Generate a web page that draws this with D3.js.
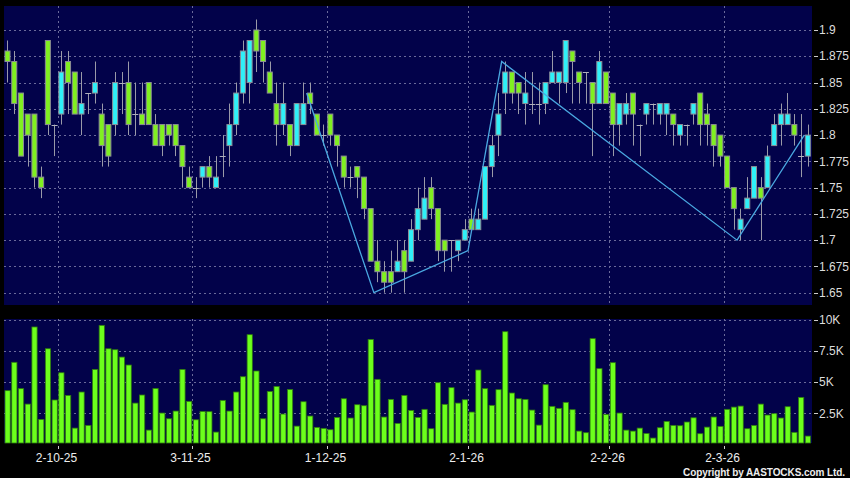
<!DOCTYPE html>
<html lang="en">
<head>
<meta charset="UTF-8">
<title>AASTOCKS candlestick</title>
<script src="https://d3js.org/d3.v7.min.js"></script>
<style>
  body { margin: 0; background: #000; }
  svg { display: block; font-family: "Liberation Sans", Arial, sans-serif; }
</style>
</head>
<body>
<div id="chart"></div>
<script>
// daily OHLC
const opens  = [1.88,1.87,1.84,1.82,1.82,1.76,1.89,1.81,1.82,1.87,1.86,1.82,1.84,1.84,1.82,1.81,1.81,1.85,1.85,1.82,
                1.82,1.85,1.81,1.81,1.81,1.81,1.79,1.76,1.75,1.76,1.77,1.75,1.78,1.79,1.81,1.84,1.85,1.90,1.89,1.86,
                1.83,1.81,1.81,1.79,1.81,1.84,1.82,1.80,1.82,1.80,1.78,1.76,1.77,1.76,1.73,1.68,1.67,1.67,1.67,1.69,
                1.68,1.71,1.72,1.75,1.73,1.70,1.70,1.69,1.70,1.72,1.71,1.72,1.77,1.80,1.84,1.86,1.85,1.83,1.83,1.83,
                1.83,1.85,1.85,1.85,1.88,1.86,1.86,1.85,1.83,1.86,1.84,1.81,1.82,1.84,1.81,1.82,1.83,1.82,1.82,1.82,
                1.80,1.81,1.82,1.84,1.82,1.81,1.80,1.78,1.75,1.71,1.73,1.74,1.75,1.75,1.79,1.81,1.81,1.81,1.78,1.78];
const highs  = [1.89,1.88,1.84,1.82,1.82,1.77,1.89,1.81,1.88,1.88,1.86,1.86,1.84,1.87,1.83,1.81,1.86,1.86,1.87,1.85,
                1.85,1.85,1.82,1.81,1.81,1.81,1.79,1.77,1.76,1.77,1.78,1.78,1.80,1.83,1.85,1.89,1.89,1.91,1.89,1.87,
                1.85,1.85,1.81,1.83,1.85,1.85,1.82,1.81,1.82,1.80,1.78,1.77,1.77,1.76,1.73,1.70,1.68,1.69,1.70,1.70,
                1.72,1.75,1.76,1.76,1.73,1.70,1.70,1.70,1.72,1.73,1.73,1.77,1.80,1.84,1.87,1.86,1.85,1.86,1.86,1.85,
                1.85,1.88,1.86,1.89,1.88,1.86,1.86,1.85,1.88,1.86,1.84,1.83,1.84,1.84,1.81,1.83,1.83,1.83,1.83,1.82,
                1.81,1.81,1.83,1.84,1.83,1.81,1.80,1.78,1.75,1.73,1.76,1.77,1.76,1.79,1.82,1.83,1.84,1.82,1.82,1.81];
const lows   = [1.85,1.82,1.78,1.77,1.75,1.74,1.80,1.78,1.81,1.82,1.82,1.80,1.82,1.83,1.77,1.77,1.80,1.82,1.80,1.80,
                1.81,1.81,1.79,1.78,1.79,1.78,1.75,1.75,1.74,1.75,1.75,1.75,1.76,1.77,1.80,1.83,1.83,1.86,1.85,1.84,
                1.79,1.80,1.78,1.79,1.81,1.82,1.80,1.79,1.79,1.77,1.75,1.75,1.74,1.72,1.68,1.66,1.65,1.65,1.67,1.65,
                1.68,1.70,1.72,1.72,1.68,1.67,1.67,1.68,1.70,1.71,1.71,1.72,1.76,1.78,1.82,1.83,1.82,1.81,1.82,1.81,
                1.82,1.85,1.83,1.84,1.83,1.83,1.83,1.78,1.83,1.83,1.78,1.79,1.81,1.79,1.78,1.81,1.81,1.81,1.80,1.79,
                1.79,1.79,1.81,1.79,1.79,1.77,1.77,1.75,1.71,1.70,1.73,1.74,1.70,1.75,1.79,1.79,1.81,1.79,1.76,1.77];
const closes = [1.87,1.83,1.78,1.80,1.76,1.75,1.81,1.81,1.86,1.85,1.82,1.83,1.84,1.85,1.79,1.78,1.85,1.85,1.81,1.82,
                1.81,1.81,1.79,1.79,1.80,1.79,1.77,1.75,1.75,1.77,1.76,1.76,1.78,1.81,1.84,1.88,1.89,1.88,1.87,1.84,
                1.81,1.83,1.79,1.83,1.83,1.83,1.80,1.80,1.80,1.79,1.76,1.76,1.76,1.73,1.68,1.67,1.66,1.66,1.68,1.67,
                1.71,1.73,1.74,1.73,1.69,1.69,1.70,1.70,1.71,1.71,1.72,1.77,1.79,1.82,1.86,1.84,1.84,1.84,1.83,1.83,
                1.85,1.86,1.86,1.89,1.87,1.85,1.86,1.83,1.87,1.83,1.81,1.83,1.83,1.82,1.81,1.83,1.83,1.83,1.83,1.81,
                1.81,1.81,1.83,1.81,1.81,1.79,1.78,1.75,1.73,1.72,1.74,1.77,1.74,1.78,1.81,1.82,1.82,1.80,1.78,1.80];
// volume in thousands
const volumes = [4.32,6.60,4.48,3.24,9.44,2.01,7.69,3.57,5.76,3.94,1.31,4.21,1.53,6.03,9.57,7.69,7.61,7.02,6.38,3.32,
                 3.97,1.15,4.50,2.52,2.06,2.68,6.03,3.46,1.98,2.65,2.63,0.99,3.54,2.68,4.21,5.44,8.82,5.90,2.06,4.26,
                 4.66,2.44,4.42,1.47,3.43,2.28,1.37,1.29,1.18,2.17,3.67,2.12,3.19,3.11,8.44,5.23,2.20,3.62,1.69,3.94,
                 2.73,2.17,2.82,1.26,4.96,3.22,4.56,3.32,3.59,2.60,5.98,4.48,3.14,4.40,9.06,4.13,3.67,3.62,2.76,1.55,
                 4.80,3.06,2.90,3.38,2.79,1.07,0.94,8.50,6.09,2.41,6.57,2.52,1.15,1.07,1.31,0.88,0.51,1.34,1.85,1.53,
                 1.50,1.80,2.14,0.86,1.39,2.20,1.45,2.82,3.00,3.08,1.26,1.53,3.24,2.36,2.47,2.12,3.03,0.97,3.78,0.67];

// date labels and the bar they sit on
const dateLabels = ["2-10-25", "3-11-25", "1-12-25", "2-1-26", "2-2-26", "2-3-26"];
const dateIndex  = [8, 28, 48, 69, 90, 107];

const priceTicks = [1.65, 1.675, 1.7, 1.725, 1.75, 1.775, 1.8, 1.825, 1.85, 1.875, 1.9];
const volTicks = [2.5, 5, 7.5, 10];

// zig-zag trend line pivots
const pivotIndex = [45, 55, 69, 74, 109, 119];
const pivotPrice = [1.84, 1.65, 1.69, 1.87, 1.70, 1.80];

const width = 850, height = 478;
const left = 4, right = 812;
const priceTop = 6, priceBottom = 305;
const volTop = 319, volBottom = 443;

const bars = opens.map((o, i) => ({ i, o, h: highs[i], l: lows[i], c: closes[i], v: volumes[i] }));

const svg = d3.select("#chart").append("svg")
    .attr("width", width)
    .attr("height", height);

svg.append("rect").attr("width", width).attr("height", height).attr("fill", "#000");

const x = d3.scaleBand()
    .domain(d3.range(bars.length))
    .range([left, 811]);

const y = d3.scaleLinear().domain([1.65, 1.9]).range([292.7, 30]);
const yv = d3.scaleLinear().domain([0, 10]).range([444.4, 320]);

// panels
svg.append("rect")
    .attr("x", left).attr("y", priceTop)
    .attr("width", right - left).attr("height", priceBottom - priceTop)
    .attr("fill", "#02024a");
svg.append("rect")
    .attr("x", left).attr("y", volTop)
    .attr("width", right - left).attr("height", volBottom - volTop)
    .attr("fill", "#02024a");

const gridColor = "#6a6a9a";

// horizontal grid + right axis for price
const pg = svg.append("g");
pg.selectAll("line.h")
    .data(priceTicks)
    .join("line")
    .attr("x1", left).attr("x2", right)
    .attr("y1", d => Math.round(y(d)) + 0.5).attr("y2", d => Math.round(y(d)) + 0.5)
    .attr("stroke", gridColor).attr("stroke-dasharray", "2,3");
pg.selectAll("line.t")
    .data(priceTicks)
    .join("line")
    .attr("x1", right + 2).attr("x2", right + 6)
    .attr("y1", d => Math.round(y(d)) + 0.5).attr("y2", d => Math.round(y(d)) + 0.5)
    .attr("stroke", "#ccc");
pg.selectAll("text")
    .data(priceTicks)
    .join("text")
    .attr("x", right + 7)
    .attr("y", d => y(d))
    .attr("dy", "0.35em")
    .attr("fill", "#ddd")
    .attr("font-size", 12)
    .text(d => String(+d.toFixed(3)));

// volume grid + axis
const vg = svg.append("g");
vg.selectAll("line.h")
    .data(volTicks)
    .join("line")
    .attr("x1", left).attr("x2", right)
    .attr("y1", d => Math.round(yv(d)) + 0.5).attr("y2", d => Math.round(yv(d)) + 0.5)
    .attr("stroke", gridColor).attr("stroke-dasharray", "2,3");
vg.selectAll("line.t")
    .data(volTicks)
    .join("line")
    .attr("x1", right + 2).attr("x2", right + 6)
    .attr("y1", d => Math.round(yv(d)) + 0.5).attr("y2", d => Math.round(yv(d)) + 0.5)
    .attr("stroke", "#ccc");
vg.selectAll("text")
    .data(volTicks)
    .join("text")
    .attr("x", right + 7)
    .attr("y", d => yv(d))
    .attr("dy", "0.35em")
    .attr("fill", "#ddd")
    .attr("font-size", 12)
    .text(d => d + "K");

// vertical date grid in both panels
const dg = svg.append("g");
dateIndex.forEach((di, k) => {
    const gx = Math.round(x(di)) + 0.5;
    dg.append("line")
        .attr("x1", gx).attr("x2", gx).attr("y1", priceTop).attr("y2", priceBottom)
        .attr("stroke", gridColor).attr("stroke-dasharray", "2,3");
    dg.append("line")
        .attr("x1", gx).attr("x2", gx).attr("y1", volTop).attr("y2", volBottom)
        .attr("stroke", gridColor).attr("stroke-dasharray", "2,3");
    dg.append("line")
        .attr("x1", gx).attr("x2", gx).attr("y1", volBottom + 3).attr("y2", volBottom + 6)
        .attr("stroke", "#ccc");
    dg.append("text")
        .attr("x", gx - 2).attr("y", 462)
        .attr("text-anchor", "middle")
        .attr("fill", "#eee")
        .attr("font-size", 12)
        .text(dateLabels[k]);
});

// candles
const bw = x.bandwidth();
const cg = svg.append("g");
cg.selectAll("line.wick")
    .data(bars)
    .join("line")
    .attr("x1", d => Math.round(x(d.i) + bw / 2) + 0.5)
    .attr("x2", d => Math.round(x(d.i) + bw / 2) + 0.5)
    .attr("y1", d => y(d.h)).attr("y2", d => y(d.l))
    .attr("stroke", "#9a9aa8");
cg.selectAll("rect")
    .data(bars.filter(d => d.o !== d.c))
    .join("rect")
    .attr("x", d => x(d.i) + 1)
    .attr("width", bw - 1.7)
    .attr("y", d => y(Math.max(d.o, d.c)))
    .attr("height", d => Math.abs(y(d.o) - y(d.c)))
    .attr("fill", d => d.c > d.o ? "#2ff0f8" : "#80f020")
    .attr("stroke", "#8c8c96")
    .attr("stroke-width", 1);
cg.selectAll("line.doji")
    .data(bars.filter(d => d.o === d.c))
    .join("line")
    .attr("x1", d => x(d.i) + 0.5).attr("x2", d => x(d.i) + bw - 0.2)
    .attr("y1", d => Math.round(y(d.c)) + 0.5).attr("y2", d => Math.round(y(d.c)) + 0.5)
    .attr("stroke", "#b0b0bc");

// trend line
svg.append("path")
    .datum(pivotIndex.map((pi, k) => [x(pi), y(pivotPrice[k])]))
    .attr("d", d3.line())
    .attr("fill", "none")
    .attr("stroke", "#4aa8e0")
    .attr("stroke-width", 1.3);

// volume bars
svg.append("g")
    .selectAll("rect")
    .data(bars)
    .join("rect")
    .attr("x", d => x(d.i) + 1)
    .attr("width", bw - 1.5)
    .attr("y", d => yv(d.v))
    .attr("height", d => volBottom - yv(d.v))
    .attr("fill", "#6cff1c")
    .attr("stroke", "#2f7a10")
    .attr("stroke-width", 0.8);

// copyright
svg.append("text")
    .attr("x", 845).attr("y", 476)
    .attr("text-anchor", "end")
    .attr("fill", "#eee")
    .attr("font-size", 10)
    .attr("font-weight", "bold")
    .attr("textLength", 162)
    .attr("lengthAdjust", "spacing")
    .text("Copyright by AASTOCKS.com Ltd.");
</script>
</body>
</html>
